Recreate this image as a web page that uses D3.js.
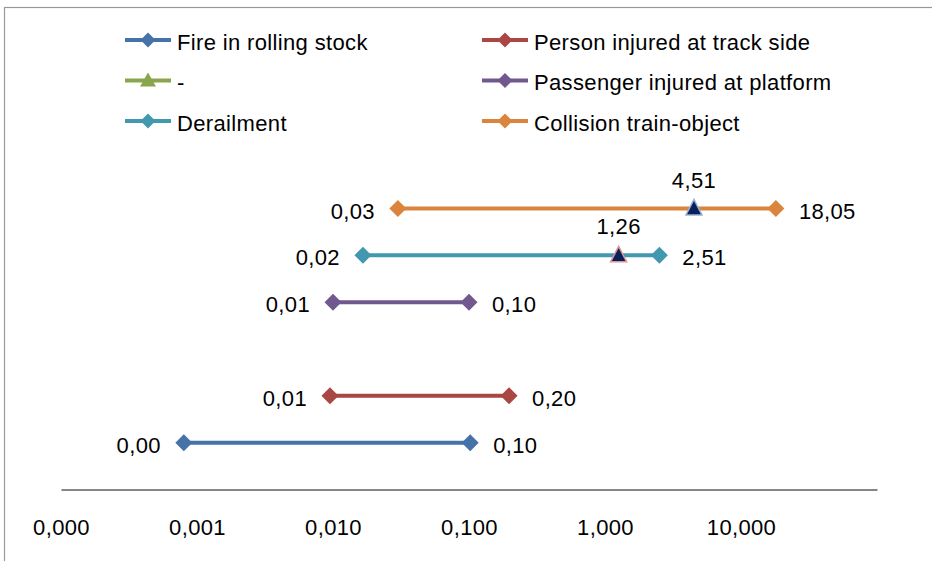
<!DOCTYPE html>
<html>
<head>
<meta charset="utf-8">
<script src="https://cdn.jsdelivr.net/npm/d3@7"></script>
<style>
  html, body { margin: 0; padding: 0; background: #fff; }
  svg { display: block; font-family: "Liberation Sans", Arial, sans-serif; }
  svg text { letter-spacing: 0.35px; }
</style>
</head>
<body>
<svg id="chart" width="932" height="561"></svg>
<script>
// ---- data ----
const categories = ["Fire in rolling stock", "Person injured at track side", "-",
                    "Passenger injured at platform", "Derailment", "Collision train-object"];
const seriesColors = ["#4572A7", "#AA4643", "#89A54E", "#71588F", "#4198AF", "#DB843D"];
const minValues = [0.0008, 0.0095, null, 0.0100, 0.0166, 0.030];
const maxValues = [0.102, 0.197, null, 0.100, 2.51, 18.05];
const medianValues = [null, null, null, null, 1.26, 4.51];
const medianOutline = [null, null, null, null, "#D99694", "#95B3D7"];
const tickValues = [0.0001, 0.001, 0.01, 0.1, 1, 10];

// ---- layout ----
const svg = d3.select("#chart");
const W = 932, H = 561;
const fontSize = 22;

// outer border
svg.append("rect").attr("x", 4.5).attr("y", 7.5).attr("width", W + 10).attr("height", H + 10)
  .attr("fill", "none").attr("stroke", "#999").attr("stroke-width", 1.2);

const x = d3.scaleLog().domain([0.0001, 100]).range([61, 877]);
const y = d3.scaleLinear().domain([0, 6]).range([489.5, 208.5]);

// axis
const fmt3 = d => d3.format(".3f")(d).replace(".", ",");
const fmt2 = d => d3.format(".2f")(d).replace(".", ",");
const axis = d3.axisBottom(x).tickValues(tickValues).tickFormat(fmt3)
  .tickSize(0).tickSizeOuter(0).tickPadding(30);
const gAxis = svg.append("g").attr("transform", `translate(0,${y(0)})`).call(axis);
gAxis.select(".domain").attr("stroke", "#868686").attr("stroke-width", 2);
gAxis.selectAll("text").attr("font-size", fontSize).attr("fill", "#000")
  .attr("font-family", "Liberation Sans, Arial, sans-serif");

const diamond = "M0,-8.5L8.5,0L0,8.5L-8.5,0Z";
const triangle = "M0,-9L8,6.5L-8,6.5Z";

const rows = categories.map((c, i) => ({
  name: c, i, color: seriesColors[i], min: minValues[i], max: maxValues[i],
  med: medianValues[i], medStroke: medianOutline[i]
}));

const plot = svg.append("g");
rows.filter(r => r.min != null).forEach(r => {
  const g = plot.append("g");
  const yy = y(r.i + 1);
  g.append("line").attr("x1", x(r.min)).attr("x2", x(r.max)).attr("y1", yy).attr("y2", yy)
    .attr("stroke", r.color).attr("stroke-width", 4);
  [r.min, r.max].forEach(v => {
    g.append("path").attr("d", diamond).attr("transform", `translate(${x(v)},${yy})`)
      .attr("fill", r.color);
  });
  g.append("text").attr("x", x(r.min) - 23).attr("y", yy + 10).attr("text-anchor", "end")
    .attr("font-size", fontSize).text(fmt2(r.min));
  g.append("text").attr("x", x(r.max) + 23).attr("y", yy + 10).attr("text-anchor", "start")
    .attr("font-size", fontSize).text(fmt2(r.max));
  if (r.med != null) {
    g.append("path").attr("d", triangle).attr("transform", `translate(${x(r.med)},${yy})`)
      .attr("fill", "#0A1F5C").attr("stroke", r.medStroke).attr("stroke-width", 1.5);
    g.append("text").attr("x", x(r.med)).attr("y", yy - 21).attr("text-anchor", "middle")
      .attr("font-size", fontSize).text(fmt2(r.med));
  }
});

// legend
const legX = [125, 482], legY = [40, 80.5, 121];
rows.forEach((r, k) => {
  const col = k % 2, row = Math.floor(k / 2);
  const lx = legX[col], ly = legY[row];
  const g = svg.append("g").attr("transform", `translate(${lx},${ly})`);
  g.append("line").attr("x1", 0).attr("x2", 46).attr("y1", 0).attr("y2", 0)
    .attr("stroke", r.color).attr("stroke-width", 4);
  if (r.name === "-") {
    g.append("path").attr("d", "M0,-8L8,6L-8,6Z").attr("transform", "translate(23,0)").attr("fill", r.color);
  } else {
    g.append("path").attr("d", "M0,-7.5L7.5,0L0,7.5L-7.5,0Z").attr("transform", "translate(23,0)").attr("fill", r.color);
  }
  g.append("text").attr("x", 52).attr("y", 9.5).attr("font-size", fontSize).attr("fill", "#000").text(r.name);
});
</script>
</body>
</html>
